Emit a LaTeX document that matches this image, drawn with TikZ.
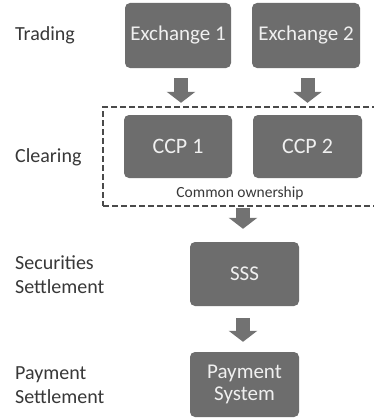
\documentclass[tikz,border=0pt]{standalone}
\usepackage{fontspec}
\setmainfont{Carlito}
\usetikzlibrary{arrows.meta}
\definecolor{boxgray}{HTML}{6D6D6D}
\definecolor{arrowgray}{HTML}{727272}
\definecolor{boxtext}{HTML}{F0F0F0}
\definecolor{labeltext}{HTML}{383838}
\definecolor{dashgray}{HTML}{4A4A4A}
\tikzset{
  stagebox/.style={draw=none, fill=boxgray, rounded corners=5pt, text=boxtext,
    font=\fontsize{21}{22}\selectfont, align=center, inner sep=0pt},
  rowlabel/.style={anchor=west, text=labeltext, font=\fontsize{20}{24}\selectfont,
    align=left, inner sep=0pt},
  bigarrow/.style={draw=arrowgray, line width=14pt, line cap=butt,
    -{Triangle[width=28pt,length=11pt]}},
  ownbox/.style={draw=dashgray, line width=1.1pt, dash pattern=on 6pt off 3pt,
    inner sep=0pt}
}
\begin{document}
\begin{tikzpicture}[x=1pt,y=-1pt]
\useasboundingbox (0,0) rectangle (373,420);
\fill[white] (0,0) rectangle (373,420);
% row labels
\node[rowlabel] (lt) at (15,35) {Trading};
\node[rowlabel] (lc) at (15,157) {Clearing};
\node[rowlabel] (ls) at (15,275) {Securities\\Settlement};
\node[rowlabel] (lp) at (15,385) {Payment\\Settlement};
% boxes
\node[stagebox, minimum width=106pt, minimum height=65pt] (ex1) at (178,35.5) {Exchange 1};
\node[stagebox, minimum width=108pt, minimum height=65pt] (ex2) at (306,35.5) {Exchange 2};
\node[ownbox, minimum width=277pt, minimum height=99pt] (own) at (241.5,156.5) {};
\node[stagebox, minimum width=108pt, minimum height=63pt, font=\fontsize{22}{24}\selectfont] (ccp1) at (178,146.5) {CCP 1};
\node[stagebox, minimum width=109pt, minimum height=63pt, font=\fontsize{22}{24}\selectfont] (ccp2) at (307.5,146.5) {CCP 2};
\node[text=labeltext, font=\fontsize{15.5}{17}\selectfont, inner sep=0pt] (co) at (240,193) {Common ownership};
\node[stagebox, minimum width=109pt, minimum height=64pt] (sss) at (244.5,274) {SSS};
\node[stagebox, minimum width=109pt, minimum height=65pt] (pay) at (244.5,384.5) {Payment\\System};
% arrows
\draw[bigarrow, shorten <=10pt, shorten >=12pt] ([xshift=3pt]ex1.south) -- ([xshift=3pt]ccp1.north);
\draw[bigarrow, shorten <=10pt, shorten >=12pt] ([xshift=1.5pt]ex2.south) -- ([xshift=0pt]ccp2.north);
\draw[bigarrow, shorten <=1pt, shorten >=13pt] ([xshift=1.5pt]own.south) -- ([xshift=-1.5pt]sss.north);
\draw[bigarrow, shorten <=12pt, shorten >=10pt] ([xshift=-1.5pt]sss.south) -- ([xshift=-1.5pt]pay.north);
\end{tikzpicture}
\end{document}
